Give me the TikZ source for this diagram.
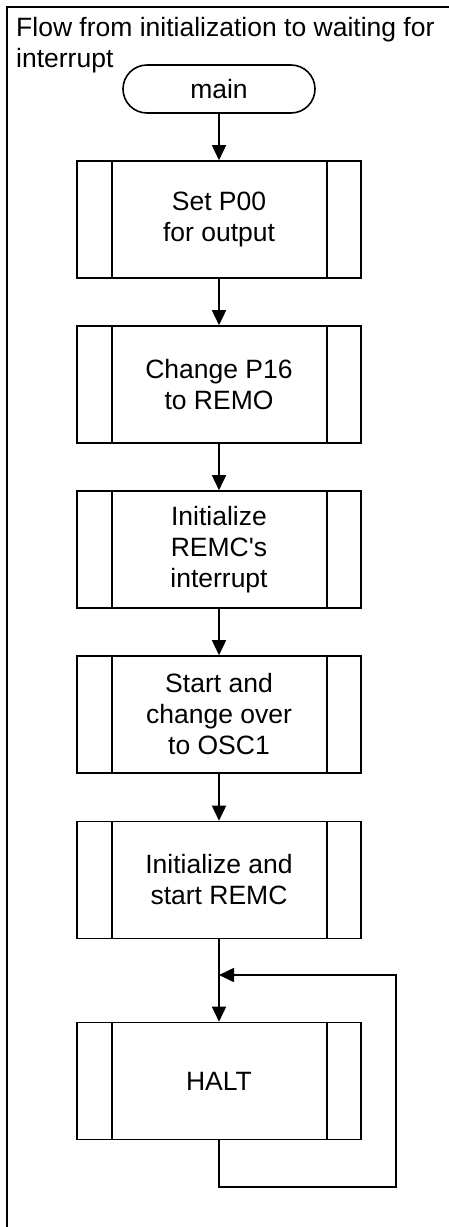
\documentclass[tikz,border=0pt]{standalone}
\usepackage{fontspec}
\setmainfont{Liberation Sans}[Ligatures=TeXOff]
\usetikzlibrary{arrows.meta}
\tikzset{
  every picture/.style={x=1pt,y=-1pt},
  ln/.style={line width=1.6pt},
  arr/.style={ln,-{Triangle[length=15pt,width=14pt]}},
  txt/.style={font=\fontsize{26.5pt}{31pt}\selectfont,align=center},
  procbox/.style={ln,draw,txt,minimum width=284pt,minimum height=117pt,inner sep=0pt,
    path picture={
      \draw[ln] ([xshift=35pt]path picture bounding box.north west) -- ([xshift=35pt]path picture bounding box.south west);
      \draw[ln] ([xshift=-34pt]path picture bounding box.north east) -- ([xshift=-34pt]path picture bounding box.south east);
    }},
  term/.style={ln,draw,txt,minimum width=192pt,minimum height=48pt,rounded corners=24pt,inner sep=0pt}
}
\begin{document}
\begin{tikzpicture}
\useasboundingbox (0,0) rectangle (449,1227);
\draw[line width=2pt] (6.5,1227) -- (6.5,6.5) -- (449,6.5);
\node[txt,align=left,anchor=north west,inner sep=0pt] (title) at (16,17) {Flow from initialization to waiting for\\interrupt};
\node[term] (main) at (219,89) {main};
\node[procbox] (b1) at (219,219.5) {Set P00\\for output};
\node[procbox] (b2) at (219,384.5) {Change P16\\to REMO};
\node[procbox] (b3) at (219,549.5) {Initialize\\REMC's\\interrupt};
\node[procbox] (b4) at (219,714.5) {Start and\\change over\\to OSC1};
\node[procbox] (b5) at (219,880) {Initialize and\\start REMC};
\node[procbox] (halt) at (219,1081) {HALT};
\coordinate (join) at (219,975);
\coordinate (loopcorner) at (396,1187);
\draw[arr] (main) -- (b1);
\draw[arr] (b1) -- (b2);
\draw[arr] (b2) -- (b3);
\draw[arr] (b3) -- (b4);
\draw[arr] (b4) -- (b5);
\draw[arr] (b5) -- (halt);
\draw[arr] (halt.south) |- (loopcorner) |- (join);
\end{tikzpicture}
\end{document}
